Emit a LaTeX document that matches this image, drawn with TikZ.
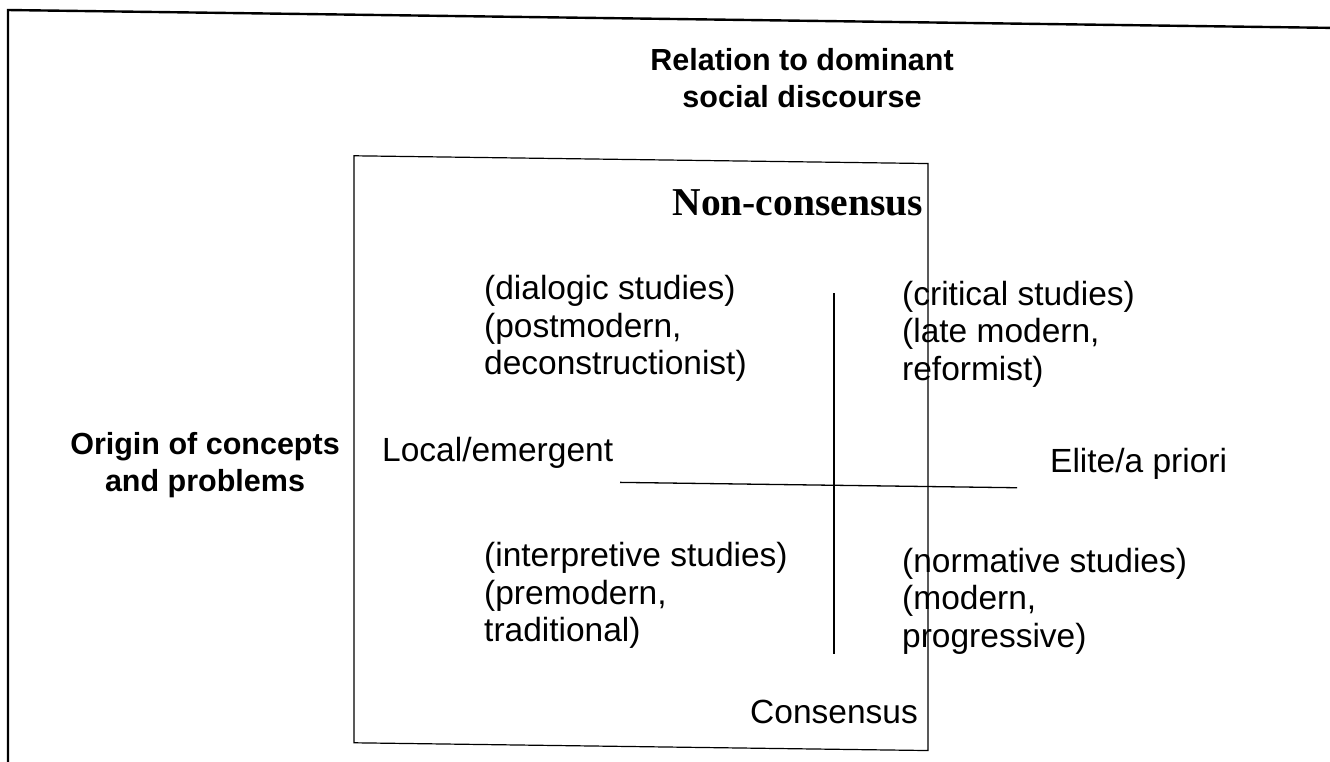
\documentclass[tikz,border=0pt]{standalone}
\usepackage{fontspec}
\setmainfont{Liberation Sans}
\newfontfamily\titleserif{Liberation Serif}
\begin{document}
\begin{tikzpicture}[x=1pt,y=-1pt,
  lbl/.style={inner sep=0pt, font=\fontsize{33.5}{37.5}\selectfont},
  axistitle/.style={inner sep=0pt, font=\fontsize{30.5}{37}\selectfont\bfseries},
  pole/.style={inner sep=0pt, font=\fontsize{39.5}{44}\selectfont\titleserif\bfseries},
  frameline/.style={line width=2.4pt},
  boxline/.style={line width=1.2pt},
  axisline/.style={line width=1.3pt}]
\useasboundingbox (0,0) rectangle (1330,761);
% the page sits slightly skewed: everything is drawn in a sheared frame
\begin{scope}[cm={1,-0.0135,0,1,(0,0)}]
  % outer frame (left and top edges)
  \coordinate (fb)  at (8,775);
  \coordinate (ftl) at (8,9.9);
  \coordinate (ftr) at (1345,9.9);
  \draw[frameline] (fb) -- (ftl) -- (ftr);
  % inner box
  \coordinate (bx1) at (354,151);
  \coordinate (bx2) at (928,738);
  \draw[boxline] (bx1) rectangle (bx2);
  % axes
  \coordinate (hL) at (620,474);
  \coordinate (hR) at (1017,474);
  \coordinate (vT) at (834,282);
  \coordinate (vB) at (834,643);
  \draw[axisline] (hL) -- (hR);
  \draw[axisline] (vT) -- (vB);
  % axis titles
  \node[axistitle, anchor=base] (rel1) at (802,60) {Relation to dominant};
  \node[axistitle, anchor=base] (rel2) at (802,97) {social discourse};
  \node[axistitle, anchor=base] (ori1) at (205,452) {Origin of concepts};
  \node[axistitle, anchor=base] (ori2) at (205,489) {and problems};
  % poles
  \node[pole, anchor=base east] (noncons) at (923,203.5) {Non-consensus};
  \node[lbl, anchor=base east] (cons) at (918,710.6) {Consensus};
  \node[lbl, anchor=base west] (local) at (382,456) {Local/emergent};
  \node[lbl, anchor=base west] (elite) at (1050,458) {Elite/a priori};
  % quadrants
  \node[lbl, anchor=base west] (dia1) at (484,293) {(dialogic studies)};
  \node[lbl, anchor=base west] (dia2) at (484,330.5) {(postmodern,};
  \node[lbl, anchor=base west] (dia3) at (484,368) {deconstructionist)};
  \node[lbl, anchor=base west] (cri1) at (902,293) {(critical studies)};
  \node[lbl, anchor=base west] (cri2) at (902,330.5) {(late modern,};
  \node[lbl, anchor=base west] (cri3) at (902,368) {reformist)};
  \node[lbl, anchor=base west] (int1) at (484,560) {(interpretive studies)};
  \node[lbl, anchor=base west] (int2) at (484,597.5) {(premodern,};
  \node[lbl, anchor=base west] (int3) at (484,635) {traditional)};
  \node[lbl, anchor=base west] (nor1) at (902,560) {(normative studies)};
  \node[lbl, anchor=base west] (nor2) at (902,597.5) {(modern,};
  \node[lbl, anchor=base west] (nor3) at (902,635) {progressive)};
\end{scope}
\end{tikzpicture}
\end{document}
